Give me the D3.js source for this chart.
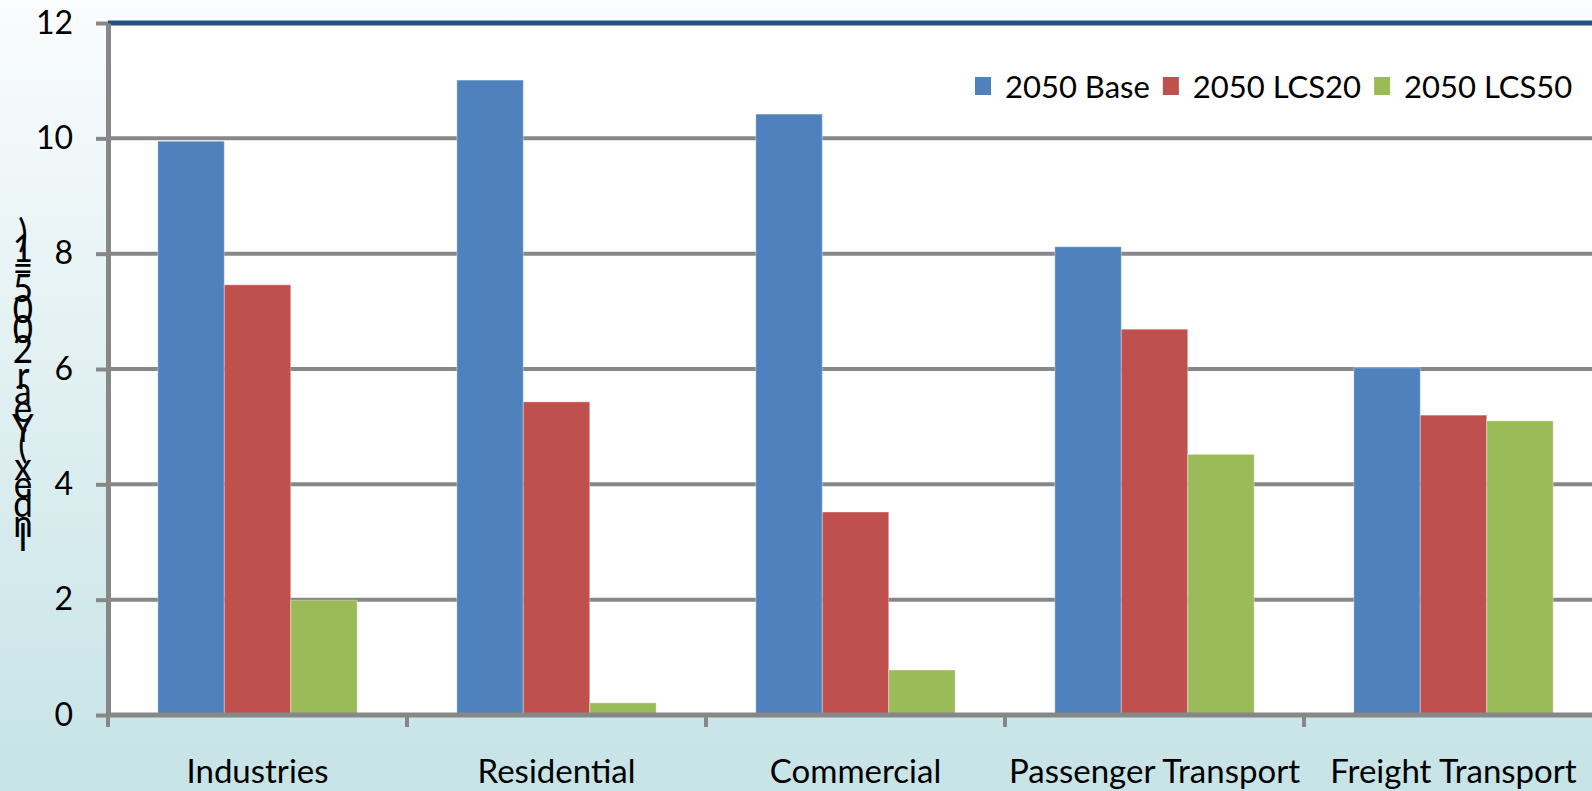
<!DOCTYPE html>
<html>
<head>
<meta charset="utf-8">
<script src="https://cdn.jsdelivr.net/npm/d3@7"></script>
<style>
  html, body { margin: 0; padding: 0; overflow: hidden; }
  svg { display: block; font-family: Lato, "Open Sans", sans-serif; }
</style>
</head>
<body>
<div id="chart"></div>
<script>
// data
const categories = ["Industries", "Residential", "Commercial", "Passenger Transport", "Freight Transport"];
const seriesNames = ["2050 Base", "2050 LCS20", "2050 LCS50"];
const base2050 = [9.95, 11.01, 10.42, 8.12, 6.02];
const lcs20 = [7.46, 5.43, 3.52, 6.69, 5.20];
const lcs50 = [1.99, 0.21, 0.78, 4.52, 5.10];
const yTicks = [0, 2, 4, 6, 8, 10, 12];
const yLabel = "Index (Year 2005=1)";
const colors = ["#4F81BD", "#C0504D", "#9BBB59"];

const W = 1592, H = 791;
const plot = { left: 108, top: 23, bottom: 715, right: 1603 };

const svg = d3.select("#chart").append("svg")
    .attr("width", W)
    .attr("height", H);

// background gradient
const grad = svg.append("defs").append("linearGradient")
    .attr("id", "bg")
    .attr("x1", 0).attr("y1", 0).attr("x2", 0).attr("y2", 1);
grad.append("stop").attr("offset", "0%").attr("stop-color", "#FAFCFD");
grad.append("stop").attr("offset", "100%").attr("stop-color", "#C6E3E6");

svg.append("rect")
    .attr("width", W).attr("height", H)
    .attr("fill", "url(#bg)");

// plot area
svg.append("rect")
    .attr("x", plot.left).attr("y", plot.top)
    .attr("width", plot.right - plot.left)
    .attr("height", plot.bottom - plot.top)
    .attr("fill", "#fff");

const x = d3.scaleBand()
    .domain(categories)
    .range([plot.left, plot.right]);

const xs = d3.scaleBand()
    .domain(seriesNames)
    .range([0, x.bandwidth()])
    .paddingOuter(0.75);

const y = d3.scaleLinear()
    .domain([0, 12])
    .range([plot.bottom, plot.top]);

// gridlines
svg.selectAll(".yGrid")
    .data(yTicks.filter(d => d > 0 && d < 12))
    .enter()
    .append("line")
    .attr("class", "yGrid")
    .attr("x1", plot.left)
    .attr("x2", W)
    .attr("y1", d => y(d))
    .attr("y2", d => y(d))
    .attr("stroke", "#878787")
    .attr("stroke-width", 4);

// bars
const seriesData = [base2050, lcs20, lcs50];
seriesData.forEach((vals, si) => {
    svg.append("g")
        .selectAll("rect")
        .data(vals)
        .enter()
        .append("rect")
        .attr("x", (d, i) => x(categories[i]) + xs(seriesNames[si]))
        .attr("y", d => y(d))
        .attr("width", xs.bandwidth())
        .attr("height", d => y(0) - y(d))
        .attr("fill", colors[si])
        .attr("stroke", "#ffffff")
        .attr("stroke-opacity", 0.35)
        .attr("stroke-width", 1);
});

// top border line at 12
svg.append("line")
    .attr("x1", plot.left).attr("x2", W)
    .attr("y1", y(12)).attr("y2", y(12))
    .attr("stroke", "#264E7F")
    .attr("stroke-width", 5);

// y axis
const yAxis = svg.append("g")
    .attr("transform", `translate(${plot.left},0)`)
    .call(d3.axisLeft(y).tickValues(yTicks).tickSize(12).tickPadding(23).tickSizeOuter(0));
yAxis.select(".domain").attr("stroke", "#878787").attr("stroke-width", 5);
yAxis.selectAll(".tick line").attr("stroke", "#878787").attr("stroke-width", 4);
yAxis.selectAll(".tick text")
    .style("font-size", "32px")
    .style("font-family", "Lato, sans-serif")
    .attr("fill", "#000");

// x axis
svg.append("line")
    .attr("x1", plot.left - 2).attr("x2", W)
    .attr("y1", plot.bottom).attr("y2", plot.bottom)
    .attr("stroke", "#878787")
    .attr("stroke-width", 5);

svg.selectAll(".xTick")
    .data(categories)
    .enter()
    .append("line")
    .attr("class", "xTick")
    .attr("x1", d => x(d))
    .attr("x2", d => x(d))
    .attr("y1", plot.bottom)
    .attr("y2", plot.bottom + 12)
    .attr("stroke", "#878787")
    .attr("stroke-width", 4);

svg.selectAll(".xLabel")
    .data(categories)
    .enter()
    .append("text")
    .attr("class", "xLabel")
    .attr("x", d => x(d) + x.bandwidth() / 2)
    .attr("y", 783)
    .attr("text-anchor", "middle")
    .style("font-size", "33px")
    .attr("fill", "#000")
    .text(d => d);

// keep the last label inside the picture
svg.selectAll(".xLabel").each(function () {
    const bb = this.getBBox();
    if (bb.x + bb.width > W - 8) {
        d3.select(this).attr("x", W - 8 - bb.width / 2);
    }
});

// y label: rotated text whose glyphs stay upright
const chars = yLabel.split("");
const measure = svg.append("text").style("font-size", "35px");
const adv = chars.map(c => {
    measure.text(c === " " ? "\u00a0" : c);
    return measure.node().getComputedTextLength();
});
measure.remove();
const total = d3.sum(adv);
let cum = 0;
const centers = adv.map(a => { const c = cum + a / 2; cum += a; return c; });
const labelMid = 384;
svg.append("g")
    .selectAll("text")
    .data(chars)
    .enter()
    .append("text")
    .attr("transform", (d, i) => `translate(23,${labelMid + total / 2 - centers[i]}) scale(1,1.12)`)
    .attr("text-anchor", "middle")
    .attr("dominant-baseline", "central")
    .style("font-size", "35px")
    .attr("fill", "#000")
    .text(d => d);

// legend
const legend = svg.append("g").attr("class", "legend");
let lx = 975;
seriesNames.forEach((name, i) => {
    legend.append("rect")
        .attr("x", lx).attr("y", 77)
        .attr("width", 16).attr("height", 18)
        .attr("fill", colors[i]);
    const t = legend.append("text")
        .attr("x", lx + 30)
        .attr("y", 86)
        .attr("dominant-baseline", "central")
        .style("font-size", "31px")
        .attr("fill", "#000")
        .text(name);
    lx += 30 + t.node().getComputedTextLength() + 13;
});
</script>
</body>
</html>
